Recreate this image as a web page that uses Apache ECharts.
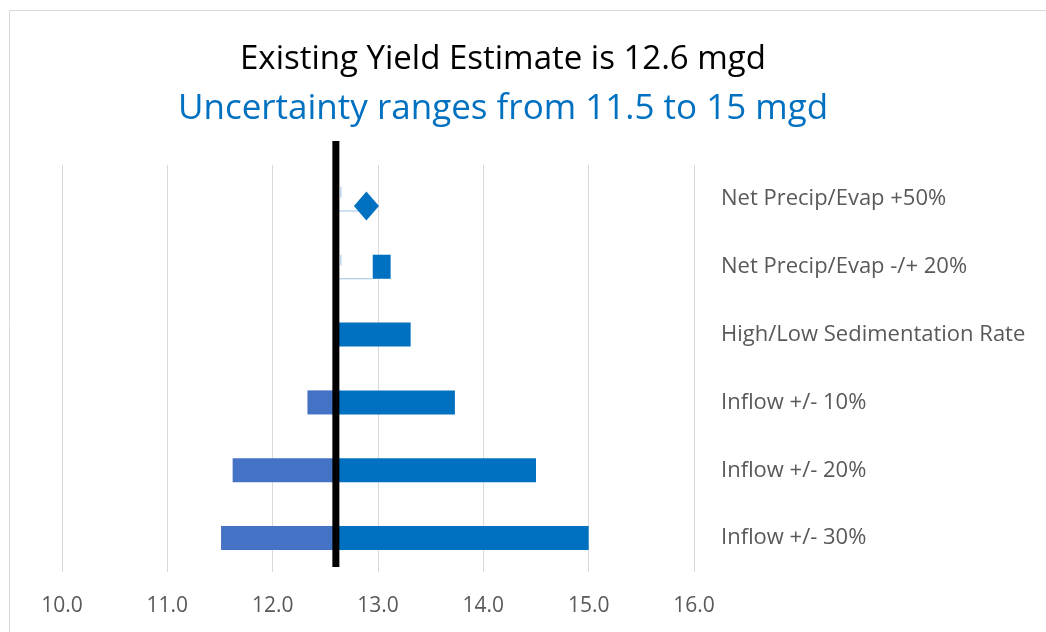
<!DOCTYPE html>
<html>
<head>
<meta charset="utf-8">
<script src="https://cdn.jsdelivr.net/npm/echarts@6/dist/echarts.min.js"></script>
<style>
html,body{margin:0;padding:0;background:#fff;}
#chart{width:1046px;height:632px;}
</style>
</head>
<body>
<div id="chart"></div>
<script>
// ---- data ----
const titleText = 'Existing Yield Estimate is 12.6 mgd';
const subtitleText = 'Uncertainty ranges from 11.5 to 15 mgd';
const categories = [
  'Net Precip/Evap +50%',
  'Net Precip/Evap -/+ 20%',
  'High/Low Sedimentation Rate',
  'Inflow +/- 10%',
  'Inflow +/- 20%',
  'Inflow +/- 30%'
];
const baseline = 12.6;
const lowValues  = [12.89, 12.95, 12.6, 12.33, 11.62, 11.51];
const highValues = [12.89, 13.12, 13.31, 13.73, 14.50, 15.0];
const diamondValues = [12.89, null, null, null, null, null];
const xTicks = [10, 11, 12, 13, 14, 15, 16];

// ---- build ----
const rangeData = categories.map((c, i) => [i, lowValues[i], highValues[i], baseline]);
const diamondData = diamondValues.map((v, i) => v == null ? null : [v, i]).filter(d => d);

function renderRange(params, api) {
  const idx = api.value(0);
  const low = api.value(1), high = api.value(2), base = api.value(3);
  const band = api.size([0, 1])[1];
  const h = band * 0.355;
  const cy = api.coord([base, idx])[1];
  const y0 = cy - h / 2;
  const children = [];
  const xb = api.coord([base, idx])[0];
  const xl = api.coord([low, idx])[0];
  const xh = api.coord([high, idx])[0];
  if (low < base) {
    children.push({type: 'rect', shape: {x: xl, y: y0, width: xb - xl, height: h},
      style: {fill: '#4472C4'}});
  }
  const startHigh = Math.max(low, base);
  const xs = api.coord([startHigh, idx])[0];
  if (high > startHigh) {
    children.push({type: 'rect', shape: {x: xs, y: y0, width: xh - xs, height: h},
      style: {fill: '#0070C0'}});
  }
  if (low > base) {
    children.push({type: 'line', shape: {x1: xb, y1: y0 + h, x2: xl, y2: y0 + h},
      style: {stroke: '#9DC3E6', lineWidth: 1}});
    children.push({type: 'line', shape: {x1: xb + 5, y1: y0, x2: xb + 5, y2: y0 + h * 0.45},
      style: {stroke: '#9DC3E6', lineWidth: 1}});
  }
  return {type: 'group', children: children};
}

const chart = echarts.init(document.getElementById('chart'));
chart.setOption({
  animation: false,
  backgroundColor: '#ffffff',
  graphic: [{
    type: 'rect', left: 7, top: 8, shape: {width: 1100, height: 700},
    style: {fill: 'none', stroke: '#D9D9D9', lineWidth: 1}, silent: true, z: -10
  }],
  title: [
    {text: titleText, left: 498, top: 38, textAlign: 'center',
     textStyle: {fontFamily: 'Open Sans', fontSize: 33, fontWeight: 'normal', color: '#000000'}},
    {text: subtitleText, left: 498, top: 87, textAlign: 'center',
     textStyle: {fontFamily: 'Open Sans', fontSize: 35, fontWeight: 'normal', color: '#0070C0'}}
  ],
  grid: [
    {left: 62, right: 352, top: 165, bottom: 60},
    {left: 62, right: 352, top: 141, bottom: 65}
  ],
  xAxis: [
    {type: 'value', gridIndex: 0, min: xTicks[0], max: xTicks[xTicks.length - 1], interval: 1,
     axisLine: {show: false}, axisTick: {show: false},
     splitLine: {show: true, lineStyle: {color: '#D9D9D9', width: 1}},
     axisLabel: {margin: 24, color: '#595959', fontFamily: 'Open Sans', fontSize: 21,
       formatter: v => v.toFixed(1)}},
    {type: 'value', gridIndex: 1, min: xTicks[0], max: xTicks[xTicks.length - 1], show: false}
  ],
  yAxis: [
    {type: 'category', gridIndex: 0, data: categories, inverse: true, position: 'right',
     axisLine: {show: false}, axisTick: {show: false}, splitLine: {show: false},
     axisLabel: {margin: 27, color: '#595959', fontFamily: 'Open Sans', fontSize: 22}},
    {type: 'value', gridIndex: 1, min: 0, max: 1, show: false}
  ],
  series: [
    {type: 'custom', xAxisIndex: 0, yAxisIndex: 0, renderItem: renderRange,
     encode: {x: [1, 2, 3], y: 0}, data: rangeData, z: 2},
    {type: 'scatter', xAxisIndex: 0, yAxisIndex: 0, data: diamondData,
     symbol: 'diamond', symbolSize: [25, 29], symbolOffset: [0, 7],
     itemStyle: {color: '#0070C0', opacity: 1}, z: 3},
    {type: 'line', xAxisIndex: 1, yAxisIndex: 1, data: [[baseline, 0], [baseline, 1]],
     symbol: 'none', lineStyle: {color: '#000000', width: 7}, z: 5}
  ]
});
</script>
</body>
</html>
